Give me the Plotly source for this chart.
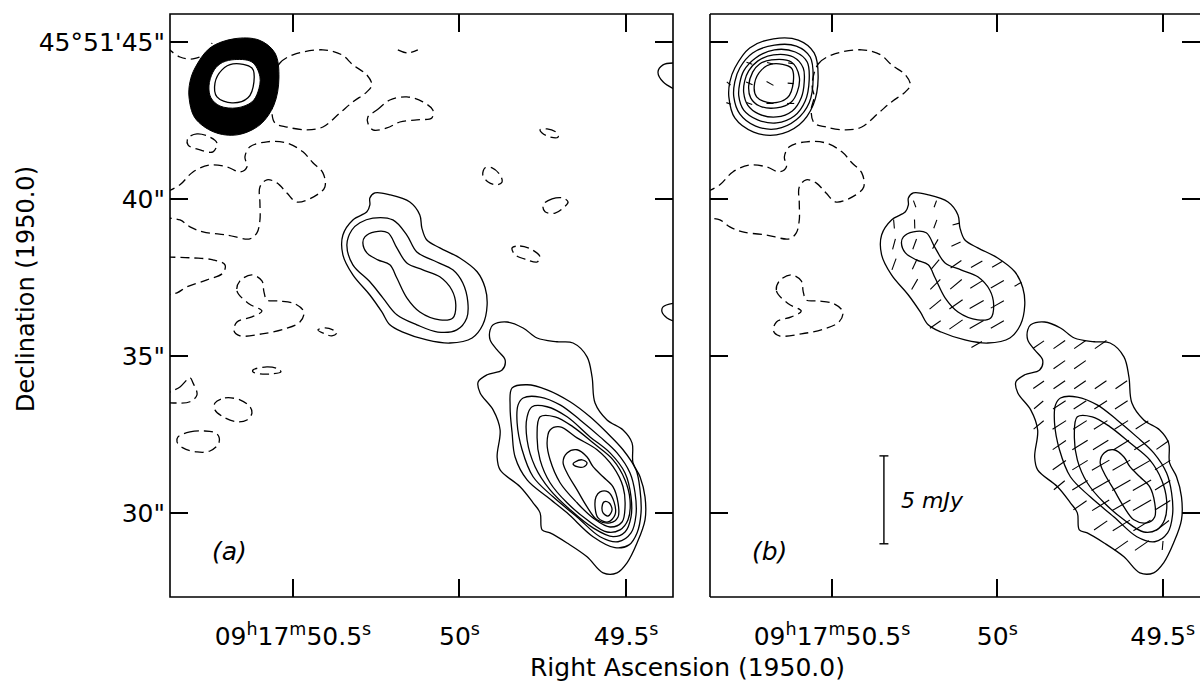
import math
import plotly.graph_objects as go

FONT = "DejaVu Sans, Liberation Sans, sans-serif"

# ---------------- axis ticks ----------------
RA_TICKS = [50.5, 50.0, 49.5]
RA_TICK_TEXT = ["09<sup>h</sup>17<sup>m</sup>50.5<sup>s</sup>", "50<sup>s</sup>", "49.5<sup>s</sup>"]
DEC_TICKS = [45, 40, 35, 30]
DEC_TICK_TEXT = ["45°51'45\"", "40\"", "35\"", "30\""]

# ---------------- contours (RA seconds of 09h17m, Dec arcsec of +45°51') ----------------
# bright northern component (concentric levels)
T1 = [(50.677,45.10),(50.602,45.06),(50.554,44.65),(50.542,43.85),(50.557,42.99),(50.599,42.36),(50.668,42.04),(50.737,42.13),(50.794,42.58),(50.812,43.25),(50.809,43.73),(50.794,44.17),(50.749,44.81)]
T2 = [(50.674,44.90),(50.608,44.87),(50.566,44.52),(50.557,43.85),(50.569,43.06),(50.608,42.52),(50.668,42.23),(50.731,42.32),(50.779,42.71),(50.797,43.25),(50.794,43.73),(50.779,44.17),(50.740,44.65)]
T3 = [(50.674,44.75),(50.611,44.68),(50.575,44.36),(50.569,43.79),(50.581,43.12),(50.614,42.64),(50.668,42.42),(50.725,42.52),(50.767,42.83),(50.782,43.28),(50.779,43.69),(50.767,44.08),(50.731,44.49)]
T4 = [(50.677,44.59),(50.617,44.52),(50.587,44.17),(50.584,43.73),(50.593,43.22),(50.620,42.80),(50.668,42.61),(50.722,42.71),(50.755,42.99),(50.767,43.38),(50.764,43.76),(50.752,44.08),(50.725,44.39)]
T5 = [(50.683,44.43),(50.623,44.36),(50.599,43.89),(50.605,43.41),(50.623,43.09),(50.668,42.90),(50.719,42.96),(50.746,43.22),(50.752,43.60),(50.740,44.04),(50.719,44.30)]
T6 = [(50.680,44.30),(50.623,44.17),(50.617,43.73),(50.635,43.22),(50.683,43.06),(50.728,43.25),(50.734,43.69),(50.713,44.11)]

# middle component
M1 = [(50.269,40.03),(50.254,40.19),(50.209,40.13),(50.149,39.90),(50.119,39.49),(50.113,39.08),(50.098,38.69),(50.059,38.44),(49.999,38.12),(49.947,37.68),(49.923,37.17),(49.917,36.62),(49.930,35.99),(49.962,35.57),(50.029,35.41),(50.098,35.51),(50.170,35.76),(50.209,35.99),(50.233,36.40),(50.269,36.94),(50.320,37.58),(50.350,38.22),(50.350,38.85),(50.320,39.33),(50.278,39.59),(50.269,39.81)]
M2 = [(50.299,39.24),(50.260,39.39),(50.200,39.33),(50.158,38.85),(50.128,38.31),(50.068,37.99),(50.020,37.74),(49.990,37.32),(49.975,36.72),(49.978,36.21),(50.008,35.83),(50.065,35.76),(50.128,35.99),(50.188,36.31),(50.230,36.85),(50.269,37.36),(50.320,37.90),(50.338,38.54),(50.323,39.01)]
M3 = [(50.284,38.79),(50.254,38.95),(50.215,38.92),(50.188,38.44),(50.158,37.96),(50.110,37.74),(50.059,37.52),(50.023,37.10),(50.011,36.62),(50.020,36.21),(50.059,36.15),(50.119,36.40),(50.158,36.85),(50.188,37.48),(50.209,37.90),(50.245,38.06),(50.278,38.28),(50.290,38.60)]

# southern component
L1 = [(49.899,35.99),(49.857,36.08),(49.809,35.89),(49.767,35.57),(49.707,35.45),(49.659,35.41),(49.617,34.97),(49.602,34.33),(49.593,33.50),(49.557,32.96),(49.509,32.64),(49.482,32.23),(49.479,31.59),(49.458,31.15),(49.443,30.51),(49.443,29.78),(49.467,29.04),(49.497,28.41),(49.527,28.09),(49.569,28.09),(49.617,28.60),(49.677,29.04),(49.728,29.36),(49.752,29.46),(49.758,30.00),(49.779,30.32),(49.818,30.83),(49.878,31.37),(49.887,31.78),(49.878,32.64),(49.899,33.28),(49.938,33.82),(49.944,34.17),(49.917,34.40),(49.872,34.55),(49.863,34.87),(49.887,35.19),(49.908,35.51),(49.908,35.83)]
L2 = [(49.842,33.98),(49.797,34.08),(49.737,33.92),(49.668,33.54),(49.608,33.06),(49.557,32.55),(49.509,32.01),(49.470,31.37),(49.458,30.73),(49.455,30.00),(49.467,29.36),(49.491,28.98),(49.533,28.89),(49.599,29.24),(49.677,30.00),(49.737,30.51),(49.797,31.05),(49.833,31.78),(49.842,32.55),(49.848,33.38)]
L3 = [(49.809,33.66),(49.758,33.69),(49.698,33.44),(49.638,32.96),(49.578,32.42),(49.527,31.91),(49.488,31.27),(49.473,30.64),(49.470,29.94),(49.485,29.36),(49.524,29.08),(49.578,29.24),(49.647,29.87),(49.719,30.51),(49.779,31.15),(49.812,32.01),(49.827,32.87),(49.824,33.44)]
L4 = [(49.782,33.38),(49.737,33.38),(49.677,33.06),(49.608,32.42),(49.548,31.91),(49.503,31.27),(49.485,30.51),(49.485,29.87),(49.503,29.39),(49.539,29.24),(49.599,29.52),(49.668,30.10),(49.728,30.73),(49.773,31.47),(49.797,32.32),(49.797,33.06)]
L5 = [(49.758,33.06),(49.713,33.06),(49.659,32.74),(49.599,32.23),(49.539,31.69),(49.503,31.05),(49.488,30.41),(49.494,29.78),(49.518,29.46),(49.557,29.39),(49.617,29.78),(49.677,30.32),(49.728,30.96),(49.758,31.69),(49.767,32.42)]
L6 = [(49.728,32.64),(49.698,32.74),(49.647,32.39),(49.587,32.01),(49.539,31.47),(49.509,30.83),(49.503,30.19),(49.512,29.71),(49.548,29.55),(49.599,29.84),(49.647,30.32),(49.698,30.96),(49.728,31.69),(49.737,32.23)]
L7 = [(49.677,31.91),(49.647,32.01),(49.617,31.78),(49.599,31.47),(49.569,31.15),(49.539,30.83),(49.524,30.32),(49.524,29.87),(49.548,29.68),(49.587,29.78),(49.617,30.19),(49.647,30.73),(49.677,31.27),(49.689,31.62)]
P1 = [(49.578,30.67),(49.554,30.67),(49.536,30.35),(49.533,29.94),(49.554,29.71),(49.584,29.84),(49.593,30.19),(49.590,30.51)]
P2 = [(49.566,30.35),(49.551,30.32),(49.542,30.10),(49.554,29.90),(49.569,30.00),(49.572,30.19)]
U1 = [(49.653,31.62),(49.632,31.69),(49.617,31.59),(49.626,31.47),(49.647,31.47),(49.659,31.56)]

# positive contours at the eastern edge (open)
E1 = [(49.350,44.33),(49.389,44.27),(49.404,44.04),(49.389,43.73),(49.350,43.47)]
E2 = [(49.350,36.69),(49.389,36.56),(49.392,36.40),(49.377,36.21),(49.350,36.08)]

# negative (dashed) contours
D1 = [(50.880,44.84),(50.839,44.52),(50.800,44.46),(50.758,44.65),(50.743,44.97)]
D2 = [(50.185,44.75),(50.155,44.65),(50.125,44.75)]
D3 = [(50.554,44.01),(50.539,44.33),(50.500,44.59),(50.410,44.75),(50.353,44.59),(50.320,44.27),(50.278,43.95),(50.263,43.63),(50.278,43.41),(50.320,43.09),(50.359,42.74),(50.410,42.29),(50.458,42.20),(50.518,42.29),(50.554,42.42),(50.563,42.83),(50.554,43.25),(50.560,43.57)]
D4 = [(50.275,42.61),(50.248,42.83),(50.209,43.15),(50.158,43.25),(50.110,43.09),(50.080,42.83),(50.083,42.58),(50.128,42.52),(50.179,42.45),(50.218,42.26),(50.260,42.20),(50.275,42.42)]
D5 = [(50.815,41.94),(50.788,42.07),(50.749,41.97),(50.728,41.78),(50.740,41.50),(50.779,41.56),(50.815,41.72)]
D6 = [(50.880,40.22),(50.839,40.45),(50.800,40.86),(50.749,41.08),(50.698,41.02),(50.659,40.86),(50.638,41.02),(50.644,41.34),(50.629,41.66),(50.578,41.82),(50.518,41.78),(50.470,41.50),(50.440,41.15),(50.410,40.83),(50.404,40.38),(50.428,40.13),(50.488,39.90),(50.518,40.19),(50.548,40.51),(50.578,40.61),(50.599,40.38),(50.599,39.87),(50.599,39.33),(50.608,38.92),(50.629,38.73),(50.698,38.85),(50.770,38.95),(50.809,39.11),(50.839,39.33),(50.880,39.39)]
D7 = [(50.880,38.15),(50.800,38.12),(50.740,38.06),(50.704,37.90),(50.710,37.64),(50.758,37.42),(50.818,37.20),(50.848,37.01),(50.880,36.94)]
D8 = [(50.659,37.39),(50.668,37.07),(50.632,36.66),(50.593,36.43),(50.623,36.24),(50.668,36.08),(50.677,35.80),(50.659,35.64),(50.593,35.70),(50.524,35.86),(50.479,36.08),(50.467,36.40),(50.494,36.66),(50.542,36.75),(50.578,36.78),(50.587,37.04),(50.593,37.39),(50.623,37.58)]
D9 = [(50.425,35.83),(50.404,35.89),(50.380,35.83),(50.368,35.73),(50.383,35.64),(50.404,35.70)]
D10 = [(50.620,34.55),(50.578,34.65),(50.545,34.59),(50.536,34.49),(50.560,34.43),(50.599,34.43),(50.620,34.49)]
D11 = [(50.880,33.76),(50.839,34.01),(50.809,34.30),(50.800,34.14),(50.788,33.76),(50.809,33.54),(50.848,33.50),(50.880,33.54)]
D12 = [(50.734,33.50),(50.704,33.66),(50.659,33.60),(50.629,33.38),(50.623,33.18),(50.638,32.96),(50.668,32.90),(50.710,33.06),(50.734,33.28)]
D13 = [(50.845,32.42),(50.809,32.58),(50.770,32.61),(50.728,32.52),(50.722,32.23),(50.749,31.97),(50.788,31.94),(50.830,32.07),(50.848,32.26)]
D14 = [(49.758,42.20),(49.737,42.23),(49.707,42.10),(49.704,41.97),(49.728,41.97),(49.752,42.10)]
D15 = [(49.923,40.99),(49.902,40.99),(49.878,40.76),(49.872,40.54),(49.887,40.45),(49.914,40.54),(49.930,40.76)]
D16 = [(49.749,39.81),(49.722,40.00),(49.689,40.03),(49.674,39.90),(49.689,39.71),(49.713,39.55),(49.743,39.59)]
D17 = [(49.842,38.44),(49.818,38.50),(49.782,38.38),(49.758,38.15),(49.767,37.99),(49.797,38.06),(49.833,38.22)]

# polarization vectors (panel b): position, polarized flux (mJy), position angle (deg E of N)
VEC_RA = [50.75, 50.6875, 50.625,
          50.8125, 50.75, 50.6875, 50.625,
          50.8125, 50.75, 50.6875, 50.625,
          50.25, 50.1875,
          50.3125, 50.25, 50.1875, 50.125,
          50.3125, 50.25, 50.1875, 50.125,
          50.3125, 50.25, 50.1875, 50.125, 50.0625, 50.0,
          50.25, 50.1875, 50.125, 50.0625, 50.0, 49.9375,
          50.1875, 50.125, 50.0625, 50.0,
          50.1875, 50.125, 50.0625, 50.0,
          50.0625, 49.875, 49.8125, 49.75, 49.6875,
          49.8125, 49.75,
          49.875, 49.8125, 49.75, 49.6875, 49.625,
          49.875, 49.8125, 49.75, 49.6875, 49.625,
          49.875, 49.8125, 49.75, 49.6875, 49.625, 49.5625,
          49.8125, 49.75, 49.6875, 49.625, 49.5625, 49.5,
          49.8125, 49.75, 49.6875, 49.625, 49.5625, 49.5,
          49.8125, 49.75, 49.6875, 49.625, 49.5625, 49.5,
          49.75, 49.6875, 49.625, 49.5625, 49.5,
          49.6875, 49.625, 49.5625, 49.5,
          49.625, 49.5625, 49.5]
VEC_DEC = [44.32]*3 + [43.68]*4 + [43.04]*4 + [39.84]*2 + [39.20]*4 + [38.56]*4 + [37.92]*6 + [37.28]*6 + \
          [36.64]*4 + [36.00]*4 + [35.36]*5 + [34.72]*2 + [34.08]*5 + [33.44]*5 + [32.80]*6 + [32.16]*6 + \
          [31.52]*6 + [30.88]*6 + [30.24]*5 + [29.60]*4 + [28.96]*3
VEC_P = [0.34, 0.34, 0.28,
         0.28, 0.40, 0.45, 0.34,
         0.28, 0.34, 0.40, 0.40,
         0.40, 0.40,
         0.51, 0.51, 0.51, 0.40,
         0.62, 0.62, 0.62, 0.57,
         0.68, 0.62, 0.68, 0.74, 0.74, 0.68,
         0.68, 0.80, 0.85, 0.85, 0.85, 0.45,
         0.85, 0.91, 0.91, 0.85,
         0.74, 0.91, 0.91, 0.85,
         0.68, 0.74, 0.80, 0.80, 0.80,
         0.80, 0.80,
         0.74, 0.80, 0.80, 0.80, 0.80,
         0.68, 0.85, 0.85, 0.85, 0.85,
         0.74, 0.91, 0.91, 0.91, 0.91, 0.85,
         0.91, 1.02, 1.02, 1.02, 1.02, 0.85,
         0.91, 1.02, 1.14, 1.14, 1.14, 1.02,
         0.80, 1.02, 1.19, 1.19, 1.19, 1.02,
         0.91, 1.14, 1.19, 1.19, 1.02,
         0.91, 1.14, 1.14, 0.91,
         0.91, 0.97, 0.51]
VEC_PA = [70, 75, 80,
          50, 65, 60, 85,
          70, 70, 90, 90,
          20, 160,
          5, 2, 160, 105,
          165, 160, 150, 115,
          160, 155, 140, 125, 120, 120,
          150, 135, 130, 122, 120, 120,
          130, 125, 120, 120,
          125, 125, 120, 120,
          120, 125, 125, 125, 125,
          125, 125,
          125, 125, 125, 125, 125,
          130, 123, 123, 123, 123,
          130, 123, 123, 123, 123, 123,
          125, 122, 122, 122, 122, 125,
          125, 122, 120, 120, 120, 122,
          130, 122, 120, 120, 120, 122,
          125, 122, 120, 120, 122,
          125, 122, 122, 128,
          125, 125, 175]

SCALE_MJY = 5.0             # scale bar value
ARCSEC_PER_MJY = 0.56       # vector length scale
DEC0_DEG = 45 + 51 / 60.0   # map declination for RA foreshortening

# ---------------- figure ----------------
fig = go.Figure()
BLACK = "black"


def closed(c):
    return c + [c[0]]


def add_line(c, panel, dash=None, close=True, width=1.3):
    pts = closed(c) if close else c
    xa, ya = ("x", "y") if panel == "a" else ("x2", "y2")
    fig.add_trace(go.Scatter(
        x=[p[0] for p in pts], y=[p[1] for p in pts], mode="lines",
        line=dict(color=BLACK, width=width, shape="spline", smoothing=1.0,
                  dash=dash if dash else "solid"),
        xaxis=xa, yaxis=ya, hoverinfo="skip", showlegend=False))


DASH = "9px,5px"

# ---- panel (a) ----
# saturated ring of closely spaced contours on the northern component
for c, fc in ((T1, BLACK), (T5, "white")):
    pts = closed(c)
    fig.add_trace(go.Scatter(
        x=[p[0] for p in pts], y=[p[1] for p in pts], mode="lines", fill="toself",
        fillcolor=fc, line=dict(color=BLACK, width=1, shape="spline"),
        xaxis="x", yaxis="y", hoverinfo="skip", showlegend=False))
add_line(T6, "a")
for c in (M1, M2, M3, L1, L2, L3, L4, L5, L6, L7, P1, P2, U1):
    add_line(c, "a")
for c in (E1, E2):
    add_line(c, "a", close=False)
for c in (D3, D4, D5, D8, D9, D10, D11, D12, D13, D14, D15, D16, D17):
    add_line(c, "a", dash=DASH)
for c in (D1, D2, D6, D7):
    add_line(c, "a", dash=DASH, close=False)

# ---- panel (b) ----
for c in (T1, T2, T3, T4, T5, T6, M1, M3, L1, L3, L5, L7):
    add_line(c, "b")
for c in (D3, D8):
    add_line(c, "b", dash=DASH)
add_line(D6, "b", dash=DASH, close=False)

# polarization vectors
vx, vy = [], []
for r, d, p, pa in zip(VEC_RA, VEC_DEC, VEC_P, VEC_PA):
    half = 0.5 * p * ARCSEC_PER_MJY
    east = half * math.sin(math.radians(pa))
    north = half * math.cos(math.radians(pa))
    dra = east / (15.0 * math.cos(math.radians(DEC0_DEG + d / 3600.0)))
    vx += [r - dra, r + dra, None]
    vy += [d - north, d + north, None]
fig.add_trace(go.Scatter(x=vx, y=vy, mode="lines", line=dict(color=BLACK, width=1.1),
                         xaxis="x2", yaxis="y2", hoverinfo="skip", showlegend=False))

# scale bar (5 mJy)
BAR_RA, BAR_DEC = 50.343, 30.415
bar_half = 0.5 * SCALE_MJY * ARCSEC_PER_MJY
cap = 0.0136
fig.add_trace(go.Scatter(
    x=[BAR_RA, BAR_RA, None, BAR_RA - cap, BAR_RA + cap, None, BAR_RA - cap, BAR_RA + cap],
    y=[BAR_DEC - bar_half, BAR_DEC + bar_half, None, BAR_DEC + bar_half, BAR_DEC + bar_half, None,
       BAR_DEC - bar_half, BAR_DEC - bar_half],
    mode="lines", line=dict(color=BLACK, width=1.4), xaxis="x2", yaxis="y2",
    hoverinfo="skip", showlegend=False))

# ---------------- layout ----------------
YDOM = [1 - 597 / 681, 1 - 14 / 681]
axis_common = dict(ticks="inside", ticklen=18, tickwidth=1.5, tickcolor=BLACK, mirror="ticks",
                   showline=False, showgrid=False, zeroline=False,
                   tickfont=dict(family=FONT, size=25, color=BLACK))

fig.update_layout(
    width=1200, height=681, margin=dict(l=0, r=0, t=0, b=0),
    paper_bgcolor="white", plot_bgcolor="white", showlegend=False,
    font=dict(family=FONT, size=25, color=BLACK),
    xaxis=dict(domain=[170 / 1200, 673 / 1200], range=[50.869, 49.359], tickvals=RA_TICKS,
               ticktext=RA_TICK_TEXT, ticklabelstandoff=22, anchor="y", **axis_common),
    yaxis=dict(domain=YDOM, range=[27.32, 45.89], tickvals=DEC_TICKS, ticktext=DEC_TICK_TEXT,
               ticklabelstandoff=4, anchor="x", **axis_common),
    xaxis2=dict(domain=[710 / 1200, 1.0], range=[50.869, 49.387], tickvals=RA_TICKS,
                ticktext=RA_TICK_TEXT, ticklabelstandoff=22, anchor="y2", **axis_common),
    yaxis2=dict(domain=YDOM, range=[27.32, 45.89], tickvals=DEC_TICKS, ticktext=DEC_TICK_TEXT,
                showticklabels=False, anchor="x2", **axis_common),
)

frame = dict(color=BLACK, width=1.6)
shapes = [
    dict(type="rect", xref="x domain", yref="y domain", x0=0, x1=1, y0=0, y1=1, line=frame),
    dict(type="line", xref="x2 domain", yref="y2 domain", x0=0, x1=0, y0=0, y1=1, line=frame),
    dict(type="line", xref="x2 domain", yref="y2 domain", x0=0, x1=1, y0=1, y1=1, line=frame),
    dict(type="line", xref="x2 domain", yref="y2 domain", x0=0, x1=1, y0=0, y1=0, line=frame),
]
fig.update_layout(shapes=shapes)

annotations = [
    dict(text="Right Ascension (1950.0)", xref="paper", yref="paper", x=687 / 1200, y=1 - 667 / 681,
         xanchor="center", yanchor="middle", showarrow=False, font=dict(family=FONT, size=25)),
    dict(text="Declination (1950.0)", xref="paper", yref="paper", x=26 / 1200, y=1 - 289 / 681,
         xanchor="center", yanchor="middle", textangle=-90, showarrow=False,
         font=dict(family=FONT, size=24)),
    dict(text="<i>(a)</i>", xref="x", yref="y", x=50.69, y=28.77, showarrow=False,
         font=dict(family=FONT, size=25)),
    dict(text="<i>(b)</i>", xref="x2", yref="y2", x=50.69, y=28.77, showarrow=False,
         font=dict(family=FONT, size=25)),
    dict(text="<i>5 mJy</i>", xref="x2", yref="y2", x=50.297, y=30.38, xanchor="left",
         showarrow=False, font=dict(family=FONT, size=22)),
]
fig.update_layout(annotations=annotations)

fig.write_html("out.html", config={"displayModeBar": False},
               post_script="document.body.style.margin='0';")
